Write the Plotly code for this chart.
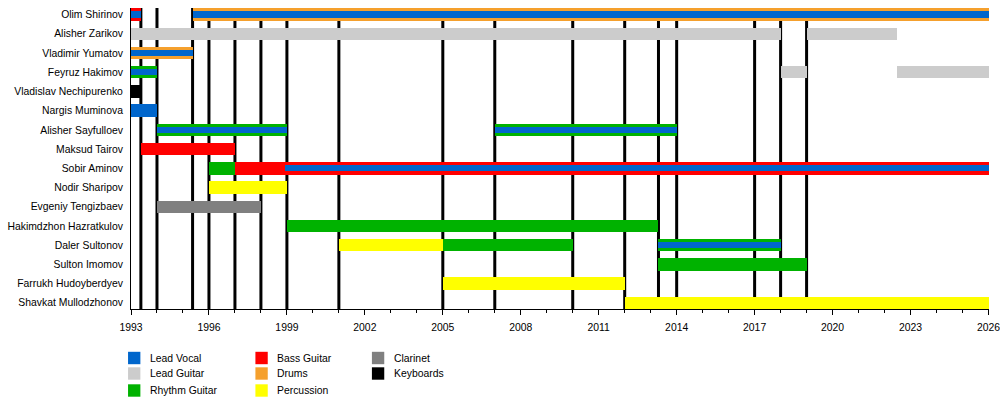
import plotly.graph_objects as go

# Members, top to bottom
members = [
    "Olim Shirinov",
    "Alisher Zarikov",
    "Vladimir Yumatov",
    "Feyruz Hakimov",
    "Vladislav Nechipurenko",
    "Nargis Muminova",
    "Alisher Sayfulloev",
    "Maksud Tairov",
    "Sobir Aminov",
    "Nodir Sharipov",
    "Evgeniy Tengizbaev",
    "Hakimdzhon Hazratkulov",
    "Daler Sultonov",
    "Sulton Imomov",
    "Farrukh Hudoyberdyev",
    "Shavkat Mullodzhonov",
]

# Roles and their colours (legend order, column by column)
roles = [
    "Lead Vocal",
    "Lead Guitar",
    "Rhythm Guitar",
    "Bass Guitar",
    "Drums",
    "Percussion",
    "Clarinet",
    "Keyboards",
]
role_colors = [
    "#0066cc",
    "#cccccc",
    "#00b200",
    "#ff0000",
    "#f5a02d",
    "#ffff00",
    "#808080",
    "#000000",
]

present = 2026.2

# Main (thick) bars
bar_member = [
    "Olim Shirinov", "Olim Shirinov",
    "Alisher Zarikov", "Alisher Zarikov",
    "Vladimir Yumatov",
    "Feyruz Hakimov", "Feyruz Hakimov", "Feyruz Hakimov",
    "Vladislav Nechipurenko",
    "Nargis Muminova",
    "Alisher Sayfulloev", "Alisher Sayfulloev",
    "Maksud Tairov",
    "Sobir Aminov", "Sobir Aminov",
    "Nodir Sharipov",
    "Evgeniy Tengizbaev",
    "Hakimdzhon Hazratkulov",
    "Daler Sultonov", "Daler Sultonov", "Daler Sultonov",
    "Sulton Imomov",
    "Farrukh Hudoyberdyev",
    "Shavkat Mullodzhonov",
]
bar_start = [
    1993.0, 1995.37,
    1993.0, 2019.0,
    1993.0,
    1993.0, 2018.0, 2022.47,
    1993.0,
    1993.0,
    1994.0, 2007.0,
    1993.38,
    1996.0, 1997.0,
    1996.0,
    1994.0,
    1999.0,
    2001.0, 2005.0, 2013.3,
    2013.3,
    2005.0,
    2012.0,
]
bar_end = [
    1993.38, present,
    2018.0, 2022.47,
    1995.37,
    1994.0, 2019.0, present,
    1993.38,
    1994.0,
    1999.0, 2014.0,
    1997.0,
    1997.0, present,
    1999.0,
    1998.0,
    2013.3,
    2005.0, 2010.0, 2018.0,
    2019.0,
    2012.0,
    present,
]
bar_role = [
    "Bass Guitar", "Drums",
    "Lead Guitar", "Lead Guitar",
    "Drums",
    "Rhythm Guitar", "Lead Guitar", "Lead Guitar",
    "Keyboards",
    "Lead Vocal",
    "Rhythm Guitar", "Rhythm Guitar",
    "Bass Guitar",
    "Rhythm Guitar", "Bass Guitar",
    "Percussion",
    "Clarinet",
    "Rhythm Guitar",
    "Percussion", "Rhythm Guitar", "Rhythm Guitar",
    "Rhythm Guitar",
    "Percussion",
    "Percussion",
]

# Lead vocal stripes drawn inside the main bars
vocal_member = [
    "Olim Shirinov", "Olim Shirinov",
    "Vladimir Yumatov",
    "Feyruz Hakimov",
    "Alisher Sayfulloev", "Alisher Sayfulloev",
    "Sobir Aminov",
    "Daler Sultonov",
]
vocal_start = [1993.0, 1995.37, 1993.0, 1993.0, 1994.0, 2007.0, 1998.92, 2013.3]
vocal_end = [1993.38, present, 1995.37, 1994.0, 1999.0, 2014.0, present, 2018.0]

# Dates of the vertical black lines
line_years = [
    1993.38, 1994, 1995.37, 1996, 1997, 1998, 1999, 2001, 2005,
    2007, 2010, 2012, 2013.3, 2014, 2017, 2018, 2019,
]

FONT = "Liberation Sans, Arial, sans-serif"
FS = 10.4

fig = go.Figure()

for role, color in zip(roles, role_colors):
    idx = [i for i, r in enumerate(bar_role) if r == role]
    if not idx:
        continue
    fig.add_trace(
        go.Bar(
            orientation="h",
            y=[bar_member[i] for i in idx],
            base=[bar_start[i] for i in idx],
            x=[bar_end[i] - bar_start[i] for i in idx],
            width=0.65,
            marker=dict(color=color, line=dict(width=0)),
            name=role,
            showlegend=False,
        )
    )

fig.add_trace(
    go.Bar(
        orientation="h",
        y=vocal_member,
        base=vocal_start,
        x=[e - s for s, e in zip(vocal_start, vocal_end)],
        width=0.32,
        marker=dict(color=role_colors[0], line=dict(width=0)),
        name="Lead Vocal",
        showlegend=False,
    )
)

for yr in line_years:
    fig.add_shape(
        type="line",
        xref="x",
        yref="paper",
        x0=yr,
        x1=yr,
        y0=0,
        y1=1,
        line=dict(color="black", width=3),
        layer="below",
    )

W, H = 1000, 408
ML, MR, MT, MB = 131, 0, 8, 99
pw, ph = W - ML - MR, H - MT - MB


def px_x(px):
    # pixel -> paper x
    return (px - ML) / pw


def px_y(py):
    # pixel -> paper y
    return (H - MB - py) / ph


# Legend drawn by hand: three columns
col_x = [128, 257, 375]
row_y = [358, 373.5, 390.5]
for k, (role, color) in enumerate(zip(roles, role_colors)):
    cx = col_x[k // 3]
    cy = row_y[k % 3]
    fig.add_shape(
        type="rect",
        xref="paper",
        yref="paper",
        x0=px_x(cx),
        x1=px_x(cx + 12.5),
        y0=px_y(cy - 6.2),
        y1=px_y(cy + 6.2),
        fillcolor=color,
        line=dict(width=0),
    )
    fig.add_annotation(
        xref="paper",
        yref="paper",
        x=px_x(cx + 20),
        y=px_y(cy),
        text=role,
        showarrow=False,
        xanchor="left",
        yanchor="middle",
        font=dict(family=FONT, size=FS, color="black"),
    )

fig.update_layout(
    width=W,
    height=H,
    autosize=False,
    margin=dict(l=ML, r=MR, t=MT, b=MB),
    barmode="overlay",
    bargap=0,
    plot_bgcolor="white",
    paper_bgcolor="white",
    font=dict(family=FONT, size=FS, color="black"),
    showlegend=False,
    xaxis=dict(
        range=[1993, 2026.02],
        tickmode="linear",
        tick0=1993,
        dtick=3,
        ticks="outside",
        ticklen=5,
        tickwidth=1,
        tickcolor="black",
        ticklabelstandoff=4,
        showline=True,
        linecolor="black",
        linewidth=1,
        showgrid=False,
        zeroline=False,
        ticklabeloverflow="allow",
        minor=dict(
            tick0=1993,
            dtick=1,
            ticks="outside",
            ticklen=3,
            tickwidth=1,
            tickcolor="black",
            showgrid=False,
        ),
    ),
    yaxis=dict(
        type="category",
        categoryorder="array",
        categoryarray=members,
        range=[len(members) - 1 + 0.32, -0.34],
        showline=True,
        linecolor="black",
        linewidth=1,
        showgrid=False,
        zeroline=False,
        ticks="",
        ticklabelstandoff=5,
    ),
)

# drop the page's default body margin so the figure fills the window exactly
fig.write_html(
    "out.html",
    config={"responsive": False, "displayModeBar": False},
    post_script="document.body.style.margin='0';document.body.style.overflow='hidden';",
)
